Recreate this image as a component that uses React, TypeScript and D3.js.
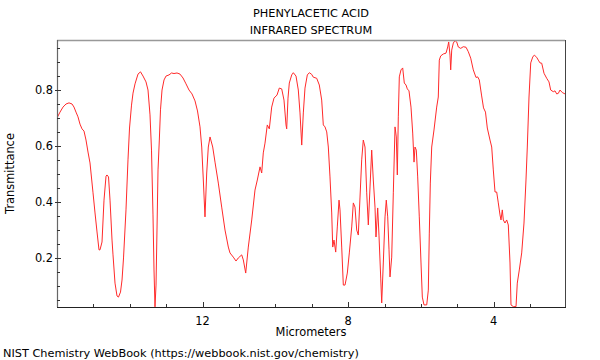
import React from "react";
import * as d3 from "d3";

const micrometers = [
  16.0, 15.917, 15.835, 15.752, 15.67, 15.587, 15.533, 15.478, 15.423, 15.368,
  15.313, 15.258, 15.203, 15.148, 15.093, 15.01, 14.955, 14.9, 14.846, 14.818,
  14.763, 14.708, 14.653, 14.626, 14.584, 14.543, 14.488, 14.461, 14.406, 14.351,
  14.31, 14.255, 14.213, 14.172, 14.104, 14.049, 14.007, 13.952, 13.911, 13.856,
  13.774, 13.705, 13.636, 13.554, 13.499, 13.444, 13.403, 13.362, 13.334, 13.307,
  13.279, 13.252, 13.224, 13.188, 13.156, 13.114, 13.059, 13.004, 12.922, 12.853,
  12.785, 12.702, 12.62, 12.537, 12.455, 12.372, 12.29, 12.207, 12.139, 12.07,
  12.023, 11.979, 11.933, 11.886, 11.842, 11.795, 11.721, 11.658, 11.567, 11.474,
  11.383, 11.292, 11.246, 11.155, 11.081, 11.018, 10.924, 10.88, 10.814, 10.743,
  10.649, 10.559, 10.495, 10.421, 10.375, 10.331, 10.284, 10.221, 10.166, 10.1,
  10.037, 9.954, 9.891, 9.825, 9.762, 9.707, 9.688, 9.652, 9.616, 9.55,
  9.506, 9.432, 9.369, 9.322, 9.275, 9.231, 9.185, 9.121, 9.066, 9.001,
  8.957, 8.863, 8.792, 8.726, 8.682, 8.635, 8.588, 8.544, 8.498, 8.451,
  8.423, 8.388, 8.341, 8.297, 8.25, 8.223, 8.176, 8.132, 8.085, 8.022,
  7.967, 7.901, 7.857, 7.811, 7.764, 7.72, 7.673, 7.627, 7.583, 7.536,
  7.489, 7.445, 7.398, 7.352, 7.308, 7.261, 7.234, 7.187, 7.151, 7.104,
  7.077, 7.033, 6.986, 6.951, 6.912, 6.876, 6.849, 6.802, 6.758, 6.711,
  6.676, 6.648, 6.621, 6.593, 6.547, 6.5, 6.456, 6.409, 6.373, 6.327,
  6.272, 6.225, 6.189, 6.162, 6.126, 6.088, 6.044, 5.997, 5.961, 5.915,
  5.84, 5.796, 5.769, 5.741, 5.703, 5.64, 5.566, 5.522, 5.494, 5.456,
  5.384, 5.31, 5.263, 5.236, 5.2, 5.181, 5.153, 5.109, 5.063, 5.016,
  4.972, 4.906, 4.835, 4.76, 4.697, 4.631, 4.56, 4.486, 4.439, 4.395,
  4.334, 4.279, 4.225, 4.175, 4.101, 4.054, 4.01, 3.963, 3.917, 3.873,
  3.826, 3.799, 3.763, 3.735, 3.689, 3.642, 3.598, 3.551, 3.524, 3.461,
  3.386, 3.351, 3.296, 3.23, 3.167, 3.112, 3.076, 3.029, 2.982, 2.927,
  2.883, 2.818, 2.774, 2.727, 2.68, 2.617, 2.543, 2.48, 2.433, 2.361,
  2.315, 2.268, 2.224, 2.177, 2.114, 2.04,
];

const transmittance = [
  0.7, 0.721, 0.739, 0.75, 0.754, 0.75, 0.739, 0.721, 0.704, 0.678,
  0.661, 0.653, 0.621, 0.578, 0.539, 0.432, 0.36, 0.292, 0.228, 0.228,
  0.256, 0.406, 0.492, 0.496, 0.489, 0.406, 0.263, 0.21, 0.109, 0.063,
  0.059, 0.077, 0.12, 0.199, 0.371, 0.55, 0.664, 0.746, 0.789, 0.822,
  0.857, 0.865, 0.85, 0.829, 0.8, 0.711, 0.585, 0.353, 0.156, 0.024,
  0.102, 0.299, 0.514, 0.621, 0.729, 0.8, 0.836, 0.85, 0.854, 0.861,
  0.859, 0.861, 0.857, 0.843, 0.822, 0.8, 0.786, 0.761, 0.725, 0.668,
  0.596, 0.478, 0.346, 0.503, 0.596, 0.632, 0.596, 0.542, 0.467, 0.381,
  0.299, 0.238, 0.217, 0.202, 0.188, 0.199, 0.21, 0.192, 0.145, 0.238,
  0.335, 0.442, 0.478, 0.525, 0.503, 0.575, 0.61, 0.675, 0.661, 0.739,
  0.771, 0.782, 0.807, 0.804, 0.764, 0.675, 0.661, 0.771, 0.825, 0.854,
  0.862, 0.85, 0.8, 0.718, 0.603, 0.718, 0.807, 0.854, 0.862, 0.856,
  0.846, 0.842, 0.818, 0.764, 0.675, 0.668, 0.65, 0.596, 0.489, 0.36,
  0.238, 0.263, 0.22, 0.31, 0.406, 0.371, 0.238, 0.102, 0.102, 0.145,
  0.217, 0.31, 0.396, 0.381, 0.299, 0.281, 0.417, 0.55, 0.621, 0.596,
  0.432, 0.317, 0.453, 0.585, 0.478, 0.381, 0.274, 0.378, 0.278, 0.127,
  0.038, 0.181, 0.346, 0.406, 0.346, 0.228, 0.131, 0.202, 0.432, 0.668,
  0.632, 0.496, 0.704, 0.847, 0.872, 0.879, 0.825, 0.818, 0.804, 0.797,
  0.739, 0.646, 0.542, 0.596, 0.585, 0.489, 0.346, 0.181, 0.059, 0.031,
  0.031, 0.084, 0.288, 0.467, 0.596, 0.657, 0.739, 0.775, 0.907, 0.922,
  0.929, 0.932, 0.954, 0.972, 0.925, 0.872, 0.943, 0.968, 0.977, 0.972,
  0.954, 0.949, 0.955, 0.953, 0.937, 0.914, 0.872, 0.845, 0.847, 0.836,
  0.782, 0.736, 0.721, 0.664, 0.621, 0.596, 0.514, 0.435, 0.435, 0.396,
  0.353, 0.335, 0.371, 0.335, 0.324, 0.335, 0.317, 0.181, 0.031, 0.025,
  0.025, 0.109, 0.156, 0.217, 0.324, 0.478, 0.596, 0.775, 0.897, 0.918,
  0.925, 0.917, 0.907, 0.897, 0.896, 0.86, 0.842, 0.829, 0.8, 0.794,
  0.797, 0.786, 0.788, 0.8, 0.791, 0.786,
];

const xMajorTicks = [12, 8, 4];
const xMinorTicks = [15, 14, 13, 11, 10, 9, 7, 6, 5, 3];
const yMajorTicks = [0.2, 0.4, 0.6, 0.8];
const yMinorTicks = [0.05, 0.1, 0.15, 0.25, 0.3, 0.35, 0.45, 0.5, 0.55, 0.65, 0.7, 0.75, 0.85, 0.9, 0.95];

const titleLines = ["PHENYLACETIC ACID", "INFRARED SPECTRUM"];
const xLabel = "Micrometers";
const yLabel = "Transmittance";
const footer = "NIST Chemistry WebBook (https://webbook.nist.gov/chemistry)";

export default function App() {
  const W = 600, H = 360;
  const left = 57, right = 565, top = 40, bottom = 307;
  const x = d3.scaleLinear().domain([16, 2.04]).range([left, right]);
  const y = d3.scaleLinear().domain([0.0235, 0.979]).range([bottom, top]);
  const data = micrometers.map((m, i) => [m, transmittance[i]] as [number, number]);
  const line = d3.line<[number, number]>().x((d) => x(d[0])).y((d) => y(d[1]));
  const font = "'DejaVu Sans', sans-serif";
  const cx = (left + right) / 2;
  const fs = 11.4;
  return (
    <svg width={W} height={H} style={{ position: "absolute", left: 0, top: 0 }} fontFamily={font}>
      <rect x={0} y={0} width={W} height={H} fill="#fff" />
      <defs>
        <clipPath id="plotclip">
          <rect x={left} y={top} width={right - left} height={bottom - top} />
        </clipPath>
      </defs>
      {titleLines.map((t, i) => (
        <text key={t} x={cx} y={17 + i * 17} textAnchor="middle" fontSize={11.3} fill="#000">{t}</text>
      ))}
      <path d={line(data) ?? ""} fill="none" stroke="#ff2a2a" strokeWidth={1} clipPath="url(#plotclip)" />
      <line x1={left} x2={right} y1={top + 0.5} y2={top + 0.5} stroke="#999" strokeWidth={1.5} />
      <line x1={right + 0.5} x2={right + 0.5} y1={top} y2={bottom} stroke="#444" strokeWidth={1} />
      <line x1={left + 0.5} x2={left + 0.5} y1={top} y2={bottom} stroke="#666" strokeWidth={1.2} />
      <line x1={left} x2={right + 1} y1={bottom + 0.5} y2={bottom + 0.5} stroke="#222" strokeWidth={1.2} />
      {xMajorTicks.map((t) => (
        <g key={"xM" + t}>
          <line x1={Math.round(x(t)) + 0.5} x2={Math.round(x(t)) + 0.5} y1={bottom - 5} y2={bottom + 1} stroke="#333" />
          <text x={x(t)} y={bottom + 18} textAnchor="middle" fontSize={fs} fill="#000">{t}</text>
        </g>
      ))}
      {xMinorTicks.map((t) => (
        <line key={"xm" + t} x1={Math.round(x(t)) + 0.5} x2={Math.round(x(t)) + 0.5} y1={bottom - 3} y2={bottom} stroke="#333" />
      ))}
      {yMajorTicks.map((t) => (
        <g key={"yM" + t}>
          <line x1={left - 2} x2={left + 4} y1={Math.round(y(t)) + 0.5} y2={Math.round(y(t)) + 0.5} stroke="#333" />
          <text x={left - 4} y={y(t) + 4.3} textAnchor="end" fontSize={fs} fill="#000">{t.toFixed(1)}</text>
        </g>
      ))}
      {yMinorTicks.map((t) => (
        <line key={"ym" + t} x1={left} x2={left + 3} y1={Math.round(y(t)) + 0.5} y2={Math.round(y(t)) + 0.5} stroke="#333" />
      ))}
      <text x={cx} y={336} textAnchor="middle" fontSize={fs} fill="#000">{xLabel}</text>
      <text transform={`translate(14,${(top + bottom) / 2}) rotate(-90)`} textAnchor="middle" fontSize={fs} fill="#000">{yLabel}</text>
      <text x={3} y={357} fontSize={11.3} fill="#000">{footer}</text>
    </svg>
  );
}
